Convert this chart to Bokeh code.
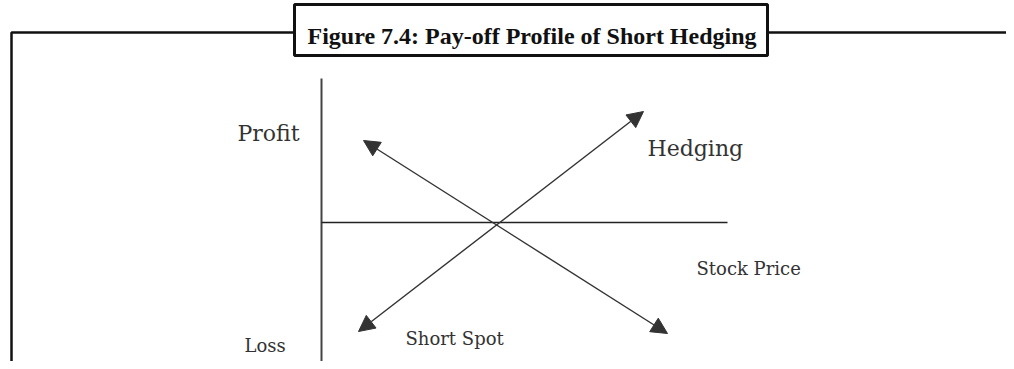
from bokeh.plotting import figure
from bokeh.models import Range1d, Arrow, NormalHead, ColumnDataSource
from bokeh.core.properties import value
from bokeh.embed import file_html
from bokeh.resources import INLINE

# ---- data (diagram units, origin at the axes corner) ----
price_axis_x = [0, 406]          # horizontal "Stock Price" axis, at payoff 0
payoff_axis_y = [-144, 144]      # vertical Profit/Loss axis, at price 0

hedge_x = [37, 322]              # Hedging payoff (rising)
hedge_y = [-109, 111]
spot_x = [42, 346]               # Short Spot payoff (falling)
spot_y = [82, -111]

label_text = ["Profit", "Hedging", "Stock Price", "Short Spot", "Loss"]
label_x = [-84, 326, 375, 84, -77]
label_y = [89, 74, -46, -116, -123]
label_size = ["22px", "22px", "18px", "18px", "18px"]

title_text = "Figure 7.4: Pay-off Profile of Short Hedging"

# ---- figure ----
p = figure(width=1006, height=361, output_backend="svg", toolbar_location=None,
           x_range=Range1d(-321, 685), y_range=Range1d(-139, 222),
           min_border=0, outline_line_color=None)
p.axis.visible = False
p.grid.visible = False
p.background_fill_color = "white"
p.border_fill_color = "white"

# outer frame (left + top rule)
p.line(x=[-310, -310, 700], y=[-160, 190, 190], line_color="#111111", line_width=2.5)

# title box
p.quad(left=[-27], right=[446], top=[218], bottom=[167],
       fill_color="white", line_color="#111111", line_width=3)
p.text(x=[-14], y=[187], text=[title_text], text_font=value("Liberation Serif"),
       text_font_style="bold", text_font_size=value("24px"), text_color="#111111",
       text_align="left", text_baseline="alphabetic")

# axes
p.line(x=[0, 0], y=payoff_axis_y, line_color="#444444", line_width=2)
p.line(x=price_axis_x, y=[0, 0], line_color="#222222", line_width=1.7)

# payoff arrows (heads at both ends)
src = ColumnDataSource(dict(x0=[hedge_x[0], spot_x[0]], y0=[hedge_y[0], spot_y[0]],
                            x1=[hedge_x[1], spot_x[1]], y1=[hedge_y[1], spot_y[1]]))
head = lambda: NormalHead(size=16, fill_color="#333333", line_color="#333333", line_width=1)
p.add_layout(Arrow(start=head(), end=head(), x_start="x0", y_start="y0",
                   x_end="x1", y_end="y1", source=src,
                   line_color="#333333", line_width=1.4))

# labels
lsrc = ColumnDataSource(dict(x=label_x, y=label_y, t=label_text, s=label_size))
p.text(x="x", y="y", text="t", source=lsrc, text_font=value("DejaVu Serif"),
       text_font_size="s", text_color="#333333", text_align="left",
       text_baseline="alphabetic")

open("out.html", "w").write(file_html(p, INLINE))
